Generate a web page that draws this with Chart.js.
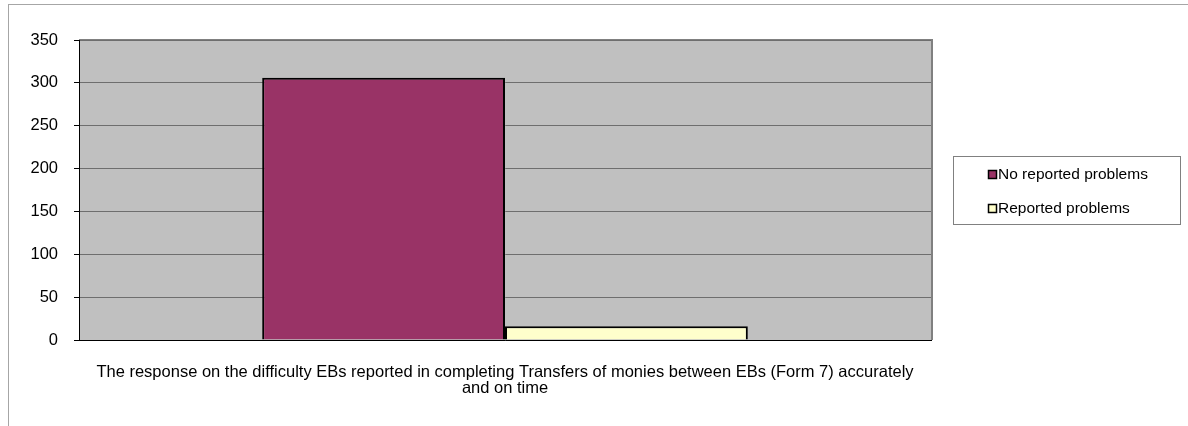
<!DOCTYPE html>
<html>
<head>
<meta charset="utf-8">
<style>
  html, body { margin: 0; padding: 0; background: #fff; }
  #wrap { position: relative; width: 1188px; height: 426px; overflow: hidden; }
  #frame { position: absolute; left: 8px; top: 4px; width: 1300px; height: 500px;
           border-top: 1px solid #a6a6a6; border-left: 1px solid #a6a6a6; pointer-events: none; }
  canvas { position: absolute; left: 0; top: 0; }
</style>
<script src="https://cdn.jsdelivr.net/npm/chart.js@4"></script>
</head>
<body>
<div id="wrap">
  <canvas id="c" width="1188" height="426"></canvas>
  <div id="frame"></div>
</div>
<script>
// Category label (two lines) and the two response series
const categories = [["The response on the difficulty EBs reported in completing Transfers of monies between EBs (Form 7) accurately", "and on time"]];
const seriesNames = ["No reported problems", "Reported problems"];
const noProblems = [306];
const reportedProblems = [16];
const yTicks = [0, 50, 100, 150, 200, 250, 300, 350];

const FONT = "'Liberation Sans', Arial, sans-serif";

// Grey plot-area background with darker top/right edge
const plotBg = {
  id: 'plotBg',
  beforeDraw(chart) {
    const { ctx, chartArea: a } = chart;
    ctx.save();
    ctx.fillStyle = '#c0c0c0';
    ctx.fillRect(a.left, a.top, a.right - a.left, a.bottom - a.top);
    ctx.strokeStyle = '#808080';
    ctx.lineWidth = 2;
    ctx.beginPath();
    ctx.moveTo(a.left, a.top);
    ctx.lineTo(a.right + 1, a.top);
    ctx.lineTo(a.right + 1, a.bottom);
    ctx.stroke();
    ctx.restore();
  }
};

// Boxed legend on the right, built from the datasets
const boxLegend = {
  id: 'boxLegend',
  afterDraw(chart) {
    const { ctx } = chart;
    const x = 953.5, y = 156.5, w = 227, h = 68;
    ctx.save();
    ctx.fillStyle = '#fff';
    ctx.fillRect(x, y, w, h);
    ctx.strokeStyle = '#808080';
    ctx.lineWidth = 1;
    ctx.strokeRect(x, y, w, h);
    ctx.font = '15.5px ' + FONT;
    ctx.textBaseline = 'middle';
    chart.data.datasets.forEach((ds, i) => {
      const cy = 174 + i * 34;
      ctx.fillStyle = ds.backgroundColor;
      ctx.fillRect(988.5, cy - 3.5, 8, 8);
      ctx.strokeStyle = '#000';
      ctx.lineWidth = 1.5;
      ctx.strokeRect(988.5, cy - 3.5, 8, 8);
      ctx.fillStyle = '#000';
      ctx.fillText(ds.label, 998, cy + 1);
    });
    ctx.restore();
  }
};

new Chart(document.getElementById('c'), {
  type: 'bar',
  data: {
    labels: categories,
    datasets: [
      { label: seriesNames[0], data: noProblems, backgroundColor: '#993366', borderColor: '#000', borderWidth: 2 },
      { label: seriesNames[1], data: reportedProblems, backgroundColor: '#ffffcc', borderColor: '#000', borderWidth: 2 }
    ]
  },
  options: {
    responsive: false,
    animation: false,
    events: [],
    categoryPercentage: 0.57,
    barPercentage: 1.0,
    layout: { padding: { left: 0, right: 257, top: 40, bottom: 0 } },
    plugins: { legend: { display: false }, tooltip: { enabled: false } },
    scales: {
      x: {
        grid: { display: false },
        border: { color: '#000', width: 1 },
        ticks: { color: '#000', font: { family: FONT, size: 16.5, lineHeight: 1.0 }, padding: 16, maxRotation: 0, autoSkip: false },
        afterFit(scale) { scale.height = 86; }
      },
      y: {
        min: 0, max: 350,
        afterBuildTicks(scale) { scale.ticks = yTicks.map(v => ({ value: v })); },
        grid: { color: '#6e6e6e', lineWidth: 1, tickLength: 5, tickColor: '#000' },
        border: { color: '#000', width: 1 },
        ticks: { color: '#000', font: { family: FONT, size: 16.5 }, padding: 16 },
        afterFit(scale) { scale.width = 79; }
      }
    }
  },
  plugins: [plotBg, boxLegend]
});
</script>
</body>
</html>
